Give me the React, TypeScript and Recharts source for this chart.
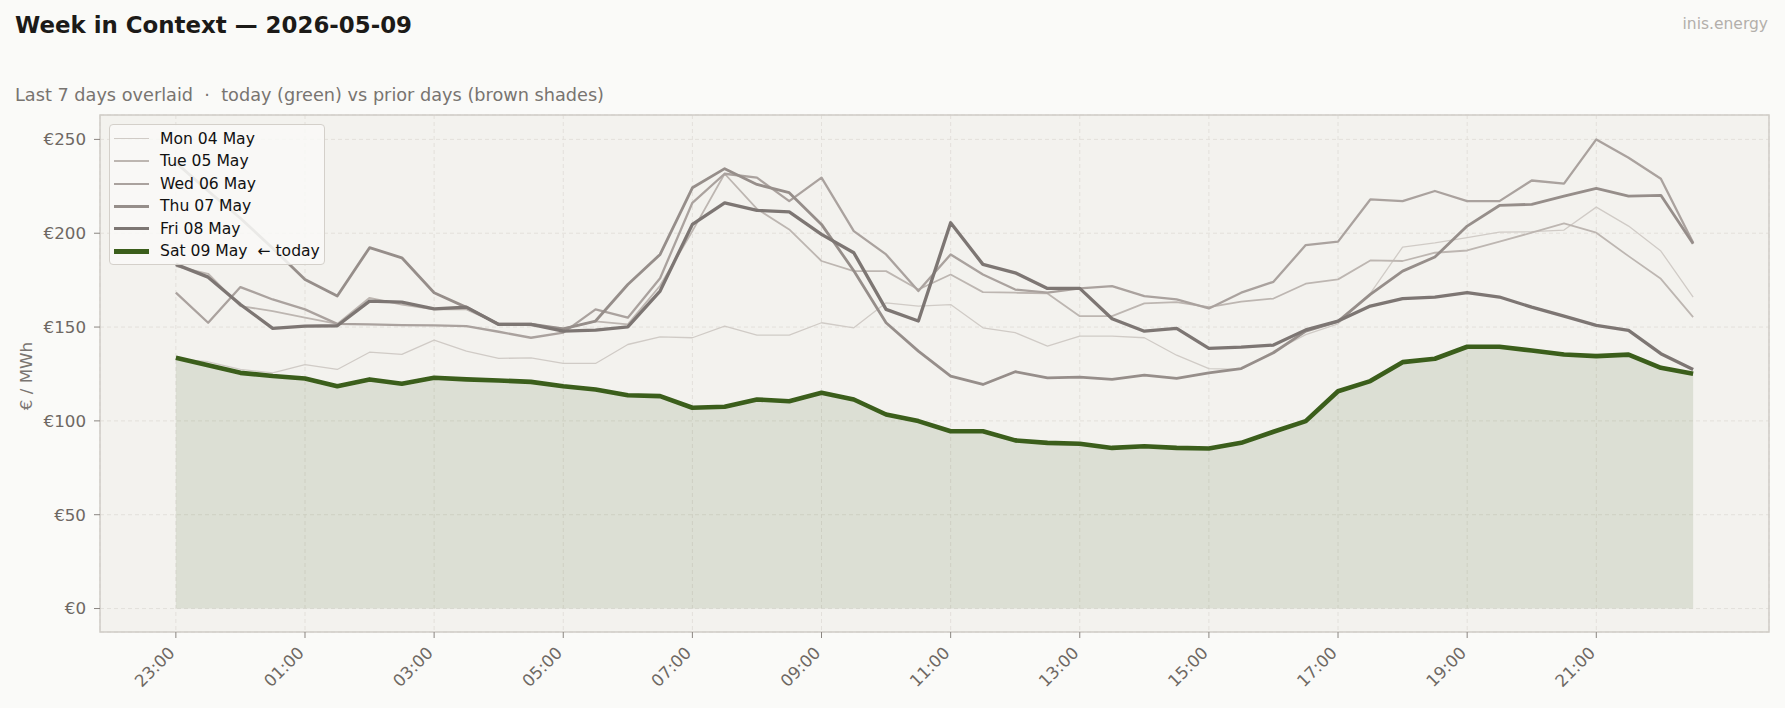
import React from "react";
import { ComposedChart, Line, Area, XAxis, YAxis, CartesianGrid, ReferenceArea } from "recharts";

// half-hour delivery slots, 23:00 (day before) through 22:30
const SLOTS = [
  "23:00", "23:30", "00:00", "00:30", "01:00", "01:30", "02:00", "02:30",
  "03:00", "03:30", "04:00", "04:30", "05:00", "05:30", "06:00", "06:30",
  "07:00", "07:30", "08:00", "08:30", "09:00", "09:30", "10:00", "10:30",
  "11:00", "11:30", "12:00", "12:30", "13:00", "13:30", "14:00", "14:30",
  "15:00", "15:30", "16:00", "16:30", "17:00", "17:30", "18:00", "18:30",
  "19:00", "19:30", "20:00", "20:30", "21:00", "21:30", "22:00", "22:30",
];

const TICK_LABELS = ["23:00", "01:00", "03:00", "05:00", "07:00", "09:00", "11:00", "13:00", "15:00", "17:00", "19:00", "21:00"];
const Y_TICKS = [0, 50, 100, 150, 200, 250];

// €/MWh per slot
const MON = [133, 131.5, 127.4, 125.6, 130, 127.4, 136.6, 135.4, 143, 137.2, 133.3, 133.6, 130.6, 130.6, 140.7, 144.8, 144.3, 150.5, 145.7, 145.7, 152.3, 149.6, 162.9, 161.2, 162, 149.6, 147, 139.8, 145.2, 145.2, 144.3, 135, 127.8, 127.4, 137, 146, 151.7, 168, 192.6, 194.9, 197.6, 200.6, 200.8, 201.7, 213.9, 203.8, 190.5, 166];
const TUE = [182.5, 178.4, 161.2, 158.5, 155, 151.7, 165.6, 162, 159.4, 159.4, 151.7, 150.9, 149.3, 153, 151.4, 172, 201.1, 231.7, 213, 202, 185.2, 179.8, 179.8, 170, 178, 168.6, 168.3, 167.9, 155.8, 155.8, 162.6, 163.3, 160.6, 163.5, 165.2, 173.1, 175.4, 185.5, 185.2, 189.6, 190.8, 195.5, 200.3, 205.2, 200.3, 187.8, 175.7, 155.3];
const WED = [168.3, 152.3, 171.3, 164.7, 159.4, 151.7, 151.4, 151, 150.9, 150.5, 147.5, 144.3, 147, 159.4, 155, 176, 216.2, 231.7, 229.6, 217.1, 229.6, 201.1, 188.7, 169.2, 188.7, 178, 170, 168.3, 170.6, 171.8, 166.5, 164.7, 159.9, 168.3, 174.1, 193.7, 195.5, 218, 217.1, 222.5, 217.1, 217.1, 228.1, 226.4, 250, 240.2, 229, 194.9];
const THU = [237.6, 222.5, 208, 192, 175.4, 166.5, 192.3, 186.9, 168.3, 160.5, 151.5, 151.5, 149, 153.2, 172.7, 188.7, 224.2, 234.4, 226, 221.6, 204.7, 180, 152.3, 137.2, 123.8, 119.4, 126.2, 122.9, 123.3, 122.1, 124.4, 122.6, 125.6, 127.9, 136.3, 147.8, 153, 167.4, 179.8, 187.3, 203.8, 214.8, 215.4, 219.8, 223.9, 219.8, 220.2, 194.4];
const FRI = [183.4, 176.6, 162, 149.3, 150.5, 150.7, 163.8, 163.3, 159.7, 160.6, 151.4, 151.4, 147.8, 148.4, 150.1, 169.2, 204.7, 216.2, 212.2, 211.4, 199.4, 189.6, 159.4, 153.2, 205.6, 183.4, 178.9, 170.6, 170.6, 154.4, 147.8, 149.3, 138.6, 139.3, 140.4, 148.5, 153.2, 161.2, 165.2, 166, 168.3, 166, 160.6, 155.8, 150.9, 148.2, 135.8, 127.4];
const SAT = [133.6, 129.7, 125.6, 123.9, 122.6, 118.5, 122.1, 119.8, 123, 122.1, 121.5, 120.8, 118.5, 116.7, 113.7, 113.2, 107, 107.5, 111.4, 110.5, 115, 111.4, 103.4, 99.9, 94.5, 94.5, 89.6, 88.3, 87.8, 85.6, 86.5, 85.6, 85.3, 88.3, 94.2, 99.9, 115.8, 121.2, 131.3, 133.1, 139.5, 139.5, 137.5, 135.4, 134.5, 135.3, 128.3, 125.1];

const GREEN = "#3b5e1b";
const FONT = "'DejaVu Sans', sans-serif";

const SERIES = [
  { key: "mon", name: "Mon 04 May", color: "#d0cbc6", width: 1.3 },
  { key: "tue", name: "Tue 05 May", color: "#bdb6b1", width: 1.8 },
  { key: "wed", name: "Wed 06 May", color: "#aaa29e", width: 2.3 },
  { key: "thu", name: "Thu 07 May", color: "#968e8a", width: 2.8 },
  { key: "fri", name: "Fri 08 May", color: "#7d7673", width: 3.3 },
  { key: "sat", name: "Sat 09 May  \u2190 today", color: GREEN, width: 4.6 },
];

const rows = SLOTS.map((slot, i) => ({
  i, slot, mon: MON[i], tue: TUE[i], wed: WED[i], thu: THU[i], fri: FRI[i], sat: SAT[i],
}));

const X_TICKS = TICK_LABELS.map((t) => SLOTS.indexOf(t));
const X_DOMAIN = [-2.35, 49.35];
const Y_DOMAIN = [-12.5, 263];

function SlotTick({ x, y, payload }: any) {
  const ty = y + 14;
  return (
    <text x={x} y={ty} transform={`rotate(-45, ${x}, ${ty})`} textAnchor="end"
      fill="#6e6863" fontSize={16.7} fontFamily={FONT}>
      {SLOTS[payload.value]}
    </text>
  );
}

function WeekLegend() {
  return (
    <div style={{
      position: "absolute", left: 109, top: 124, width: 216, height: 141, boxSizing: "border-box",
      border: "1px solid #d4d0ca", borderRadius: 4, background: "rgba(249,249,247,0.85)",
      fontFamily: FONT, fontSize: 15.6, color: "#111",
    }}>
      {SERIES.map((s, k) => (
        <div key={s.key} style={{ position: "absolute", left: 0, top: 2.5 + k * 22.5, height: 22.5, display: "flex", alignItems: "center", whiteSpace: "pre" }}>
          <div style={{ marginLeft: 4, width: 35, height: s.width, background: s.color }} />
          <span style={{ marginLeft: 11 }}>{s.name}</span>
        </div>
      ))}
    </div>
  );
}

export default function App() {
  return (
    <div style={{ position: "absolute", left: 0, top: 0, width: 1785, height: 708, background: "#fafaf8", overflow: "hidden" }}>
      <ComposedChart width={1785} height={708} data={rows} margin={{ top: 115, right: 16, bottom: 0, left: 0 }}>
        <CartesianGrid fill="#f3f2ee" stroke="#e3e0db" strokeDasharray="4 3" />
        <XAxis type="number" dataKey="i" domain={X_DOMAIN} ticks={X_TICKS} interval={0} height={76}
          allowDataOverflow axisLine={false} tickSize={6} tickLine={{ stroke: "#8a8580" }} tick={<SlotTick />} />
        <YAxis type="number" domain={Y_DOMAIN} ticks={Y_TICKS} width={100} allowDataOverflow axisLine={false}
          tickSize={6} tickMargin={8} tickLine={{ stroke: "#8a8580" }} tickFormatter={(v: number) => `€${v}`}
          tick={{ fill: "#6e6863", fontSize: 16.7, fontFamily: FONT }} />
        <Area dataKey="sat" baseValue={0} type="linear" stroke="none" fill={GREEN} fillOpacity={0.12} isAnimationActive={false} />
        {SERIES.map((s) => (
          <Line key={s.key} dataKey={s.key} name={s.name} type="linear" stroke={s.color} strokeWidth={s.width}
            strokeLinejoin="round" dot={false} activeDot={false} isAnimationActive={false} />
        ))}
        <ReferenceArea x1={X_DOMAIN[0]} x2={X_DOMAIN[1]} y1={Y_DOMAIN[0]} y2={Y_DOMAIN[1]} fill="none" stroke="#d0ccc6" strokeWidth={1.5} />
      </ComposedChart>
      <svg width={1785} height={708} style={{ position: "absolute", left: 0, top: 0, pointerEvents: "none" }}>
        <text x={15} y={33} fontFamily={FONT} fontWeight="bold" fontSize={22.9} fill="#1c1a18">Week in Context — 2026-05-09</text>
        <text x={15} y={100.5} fontFamily={FONT} fontSize={17.7} fill="#787470" style={{ whiteSpace: "pre" }}>
          {"Last 7 days overlaid  \u00b7  today (green) vs prior days (brown shades)"}
        </text>
        <text x={1768} y={28.5} textAnchor="end" fontFamily={FONT} fontSize={15.5} fill="#b3afab">inis.energy</text>
        <text x={31.5} y={376} transform="rotate(-90, 31.5, 376)" textAnchor="middle" fontFamily={FONT} fontSize={16.7} fill="#7a7571">€ / MWh</text>
      </svg>
      <WeekLegend />
    </div>
  );
}
